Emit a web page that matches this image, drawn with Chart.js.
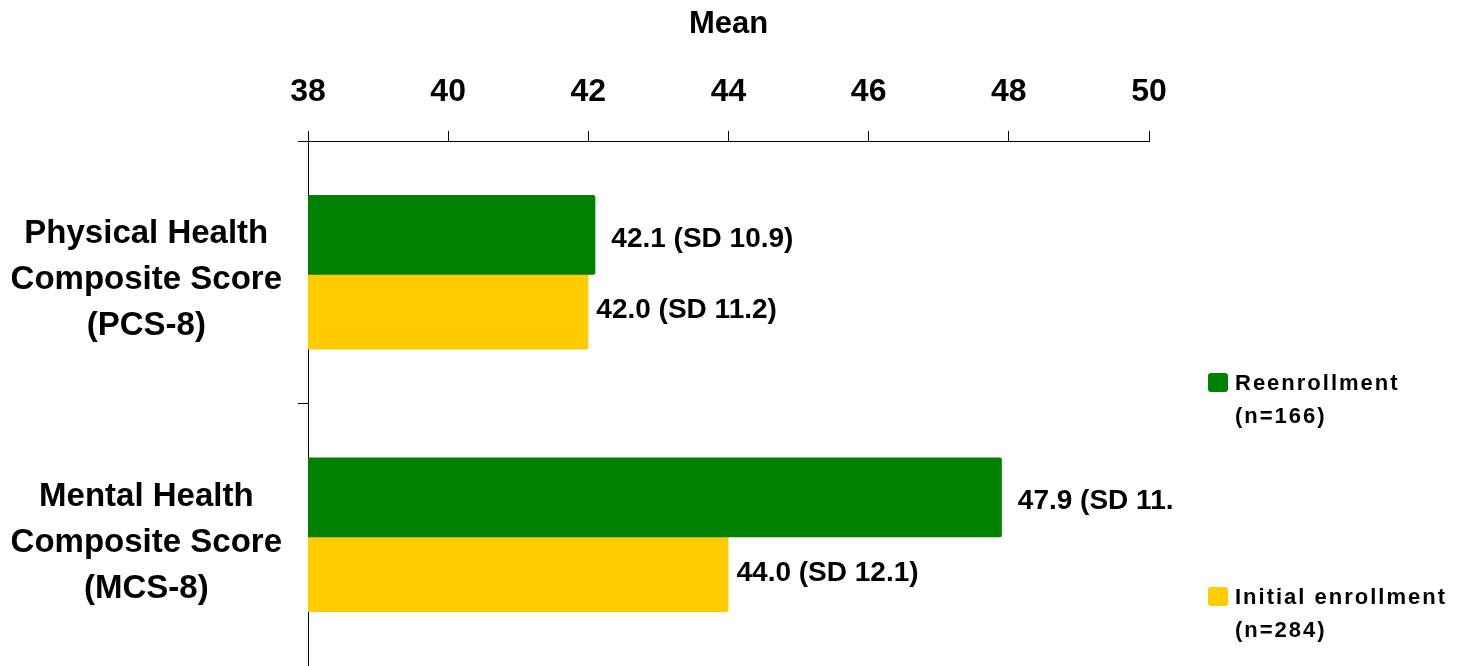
<!DOCTYPE html>
<html>
<head>
<meta charset="utf-8">
<script src="https://cdn.jsdelivr.net/npm/chart.js@4.4.1/dist/chart.umd.min.js"></script>
<style>
  html, body { margin: 0; padding: 0; background: #fff; }
</style>
</head>
<body>
<canvas id="meanChart" width="1462" height="666"></canvas>
<script>
// Categories (multi-line tick labels on the y axis)
const categories = [
  ['Physical Health', 'Composite Score', '(PCS-8)'],
  ['Mental Health', 'Composite Score', '(MCS-8)']
];
const seriesNames = ['Reenrollment', 'Initial enrollment'];
const sampleSizes = [166, 284];
const reenrollMeans = [42.1, 47.9];
const initialMeans = [42.0, 44.0];
const reenrollLabels = ['42.1 (SD 10.9)', '47.9 (SD 11.'];
const initialLabels = ['42.0 (SD 11.2)', '44.0 (SD 12.1)'];
const xTicks = [38, 40, 42, 44, 46, 48, 50];

const GREEN = '#008000';
const YELLOW = '#FFCC00';
const FONT = "'Liberation Sans', Arial, sans-serif";

Chart.defaults.font.family = FONT;
Chart.defaults.color = '#000';

// value text to the right of each bar + the split legend on the right
const annotate = {
  id: 'annotate',
  afterDatasetsDraw(chart) {
    const ctx = chart.ctx;
    const texts = [reenrollLabels, initialLabels];
    const gap = [16, 8];
    const dy = [4, 1];
    ctx.save();
    ctx.fillStyle = '#000';
    ctx.font = 'bold 28px ' + FONT;
    ctx.textAlign = 'left';
    ctx.textBaseline = 'middle';
    chart.data.datasets.forEach((ds, d) => {
      chart.getDatasetMeta(d).data.forEach((bar, i) => {
        ctx.fillText(texts[d][i], bar.x + gap[d], bar.y + dy[d]);
      });
    });

    // legend entries
    const tops = [373, 587];
    ctx.font = 'bold 22px ' + FONT;
    ctx.textBaseline = 'alphabetic';
    ctx.letterSpacing = '2px';
    chart.data.datasets.forEach((ds, d) => {
      const top = tops[d];
      ctx.fillStyle = ds.backgroundColor;
      ctx.beginPath();
      ctx.roundRect(1208, top, 20, 19, 3);
      ctx.fill();
      ctx.fillStyle = '#000';
      ctx.fillText(seriesNames[d], 1235, top + 17);
      ctx.fillText('(n=' + sampleSizes[d] + ')', 1235, top + 50);
    });
    ctx.restore();
  }
};

new Chart(document.getElementById('meanChart'), {
  type: 'bar',
  data: {
    labels: categories,
    datasets: [{
      label: seriesNames[0],
      data: reenrollMeans,
      backgroundColor: GREEN,
      borderRadius: 2,
      borderSkipped: 'start',
      categoryPercentage: 0.568,
      barPercentage: 1.07
    }, {
      label: seriesNames[1],
      data: initialMeans,
      backgroundColor: YELLOW,
      borderRadius: 2,
      borderSkipped: 'start',
      categoryPercentage: 0.568,
      barPercentage: 1.07
    }]
  },
  options: {
    indexAxis: 'y',
    responsive: false,
    devicePixelRatio: 1,
    animation: false,
    layout: { padding: { top: 0, right: 313, bottom: 0, left: 0 } },
    plugins: {
      legend: { display: false },
      tooltip: { enabled: false }
    },
    scales: {
      x: {
        type: 'linear',
        position: 'top',
        min: 38,
        max: 50,
        afterBuildTicks: s => { s.ticks = xTicks.map(v => ({ value: v })); },
        afterFit: s => { s.height = 141; },
        grid: { drawOnChartArea: false, tickLength: 10, color: '#000' },
        border: { color: '#000' },
        ticks: { font: { size: 32, weight: 'bold' }, color: '#000', padding: 20 },
        title: {
          display: true,
          text: 'Mean',
          font: { size: 31, weight: 'bold' },
          color: '#000',
          padding: { top: 6, bottom: 0 }
        }
      },
      y: {
        offset: true,
        afterFit: s => {
          s.width = 308;
          // labels sit inside their bands, no overflow room needed
          s.paddingTop = 0;
          s.paddingBottom = 0;
        },
        grid: { offset: true, drawOnChartArea: false, tickLength: 10, color: '#000' },
        border: { color: '#000' },
        ticks: {
          font: { size: 33, weight: 'bold', lineHeight: 1.394 },
          color: '#000',
          padding: 16,
          crossAlign: 'center',
          labelOffset: 8
        }
      }
    }
  },
  plugins: [annotate]
});
</script>
</body>
</html>
